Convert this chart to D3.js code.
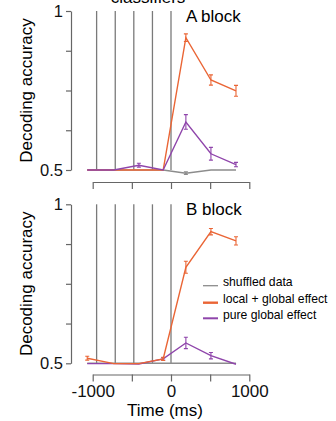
<!DOCTYPE html>
<html>
<head>
<meta charset="utf-8">
<script src="https://cdn.jsdelivr.net/npm/d3@7"></script>
<style>
  body { margin: 0; background: #fff; }
  svg { display: block; font-family: "Liberation Sans", Arial, sans-serif; }
</style>
</head>
<body>
<div id="chart"></div>
<script>
// time points (ms) of the decoding windows
const times = [-1070, -730, -410, -100, 190, 510, 830];
// stimulus onsets (vertical lines)
const onsets = [-950, -712, -475, -237, 0];

const yTicks = [0.5, 0.625, 0.75, 0.875, 1];
const xTicks = [-1000, -500, 0, 500, 1000];
const xLabels = [-1000, 0, 1000];

// A block
const aShuffled = [0.5, 0.5, 0.5, 0.5, 0.49, 0.5, 0.5];
const aShuffledErr = [0, 0, 0, 0, 0.004, 0, 0];
const aLocal = [0.5, 0.5, 0.5, 0.5, 0.916, 0.783, 0.749];
const aLocalErr = [0, 0, 0, 0, 0.012, 0.016, 0.017];
const aGlobal = [0.5, 0.5, 0.515, 0.5, 0.651, 0.551, 0.517];
const aGlobalErr = [0, 0, 0.006, 0, 0.023, 0.02, 0.007];

// B block
const bShuffled = [0.5, 0.5, 0.5, 0.5, 0.5, 0.5, 0.5];
const bShuffledErr = [0, 0, 0, 0, 0, 0, 0];
const bLocal = [0.516, 0.499, 0.499, 0.514, 0.802, 0.914, 0.885];
const bLocalErr = [0.006, 0, 0, 0.005, 0.019, 0.01, 0.013];
const bGlobal = [0.499, 0.499, 0.498, 0.514, 0.564, 0.524, 0.497];
const bGlobalErr = [0, 0, 0, 0.004, 0.018, 0.01, 0];

const colors = { shuffled: "#8c8c8c", local: "#ea6535", global: "#8f45ab" };

const W = 336, H = 421;
const svg = d3.select("#chart").append("svg")
  .attr("width", W).attr("height", H);

const x = d3.scaleLinear().domain([-1000, 1000]).range([92.7, 249.3]);

// title, cut off at the top edge like in the original figure
svg.append("text")
  .attr("x", 148).attr("y", 3)
  .attr("text-anchor", "middle")
  .style("font-size", "17px")
  .text("classifiers");

function drawPanel(top, bottom, axisY, label, series, showXLabels) {
  const y = d3.scaleLinear().domain([0.5, 1]).range([bottom, top]);
  const g = svg.append("g");

  // onset lines
  g.selectAll(".onset")
    .data(onsets)
    .join("line")
    .attr("x1", d => x(d)).attr("x2", d => x(d))
    .attr("y1", y(1)).attr("y2", y(0.5))
    .attr("stroke", "#7a7a7a")
    .attr("stroke-width", 1.3);

  const line = d3.line()
    .x((d, i) => x(times[i]))
    .y(d => y(d));

  series.forEach(s => {
    const sg = g.append("g");
    sg.append("path")
      .datum(s.values)
      .attr("fill", "none")
      .attr("stroke", s.color)
      .attr("stroke-width", 1.4)
      .attr("d", line);

    const pts = s.values.map((v, i) => ({ t: times[i], v: v, e: s.err[i] }))
      .filter(d => d.e > 0);
    sg.selectAll(".eb")
      .data(pts)
      .join("path")
      .attr("fill", "none")
      .attr("stroke", s.color)
      .attr("stroke-width", 1.1)
      .attr("d", d => {
        const cx = x(d.t), y0 = y(d.v - d.e), y1 = y(d.v + d.e);
        return `M${cx - 2},${y0}H${cx + 2}M${cx},${y0}V${y1}M${cx - 2},${y1}H${cx + 2}`;
      });
  });

  // y axis
  const yAxis = g.append("g")
    .attr("transform", "translate(71,0)")
    .call(d3.axisLeft(y).tickValues(yTicks).tickSize(5).tickSizeOuter(0)
      .tickPadding(3)
      .tickFormat(d => d === 1 ? "1" : d === 0.5 ? "0.5" : ""));
  yAxis.select(".domain").attr("stroke", "#666").attr("stroke-width", 1.2);
  yAxis.selectAll(".tick line").attr("stroke", "#666").attr("stroke-width", 1.2);
  yAxis.selectAll(".tick text")
    .attr("fill", "#111")
    .style("font-size", "16.5px")
    .style("font-family", "'Liberation Sans', Arial, sans-serif");

  // x axis
  const xAxis = g.append("g")
    .attr("transform", `translate(0,${axisY})`)
    .call(d3.axisBottom(x).tickValues(xTicks).tickSize(7).tickSizeOuter(0)
      .tickPadding(3.5)
      .tickFormat(d => showXLabels && xLabels.includes(d) ? String(d) : ""));
  xAxis.select(".domain").attr("stroke", "#666").attr("stroke-width", 1.2);
  xAxis.selectAll(".tick line").attr("stroke", "#666").attr("stroke-width", 1.2);
  xAxis.selectAll(".tick text")
    .attr("fill", "#111")
    .style("font-size", "17px")
    .style("font-family", "'Liberation Sans', Arial, sans-serif");

  // y label
  g.append("text")
    .attr("transform", `translate(32,${(top + bottom) / 2}) rotate(-90)`)
    .attr("text-anchor", "middle")
    .style("font-size", "17px")
    .text("Decoding accuracy");

  // block label
  g.append("text")
    .attr("x", 186).attr("y", top + 11)
    .style("font-size", "17px")
    .text(label);
}

drawPanel(11, 170, 182, "A block", [
  { values: aShuffled, err: aShuffledErr, color: colors.shuffled },
  { values: aLocal, err: aLocalErr, color: colors.local },
  { values: aGlobal, err: aGlobalErr, color: colors.global }
], false);

drawPanel(204.3, 363.3, 374.5, "B block", [
  { values: bShuffled, err: bShuffledErr, color: colors.shuffled },
  { values: bGlobal, err: bGlobalErr, color: colors.global },
  { values: bLocal, err: bLocalErr, color: colors.local }
], true);

svg.append("text")
  .attr("x", 165).attr("y", 416)
  .attr("text-anchor", "middle")
  .style("font-size", "17px")
  .text("Time (ms)");

// legend
const legendItems = [
  { name: "shuffled data", color: colors.shuffled, w: 1.3 },
  { name: "local + global effect", color: colors.local, w: 2.4 },
  { name: "pure global effect", color: colors.global, w: 2 }
];
const legendY = [285.7, 302.7, 318.3];
const legend = svg.append("g");
legendItems.forEach((d, i) => {
  legend.append("line")
    .attr("x1", 203).attr("x2", 218)
    .attr("y1", legendY[i]).attr("y2", legendY[i])
    .attr("stroke", d.color).attr("stroke-width", d.w);
  legend.append("text")
    .attr("x", 223).attr("y", legendY[i])
    .attr("dy", "0.05em")
    .style("font-size", "12.2px")
    .text(d.name);
});
</script>
</body>
</html>
